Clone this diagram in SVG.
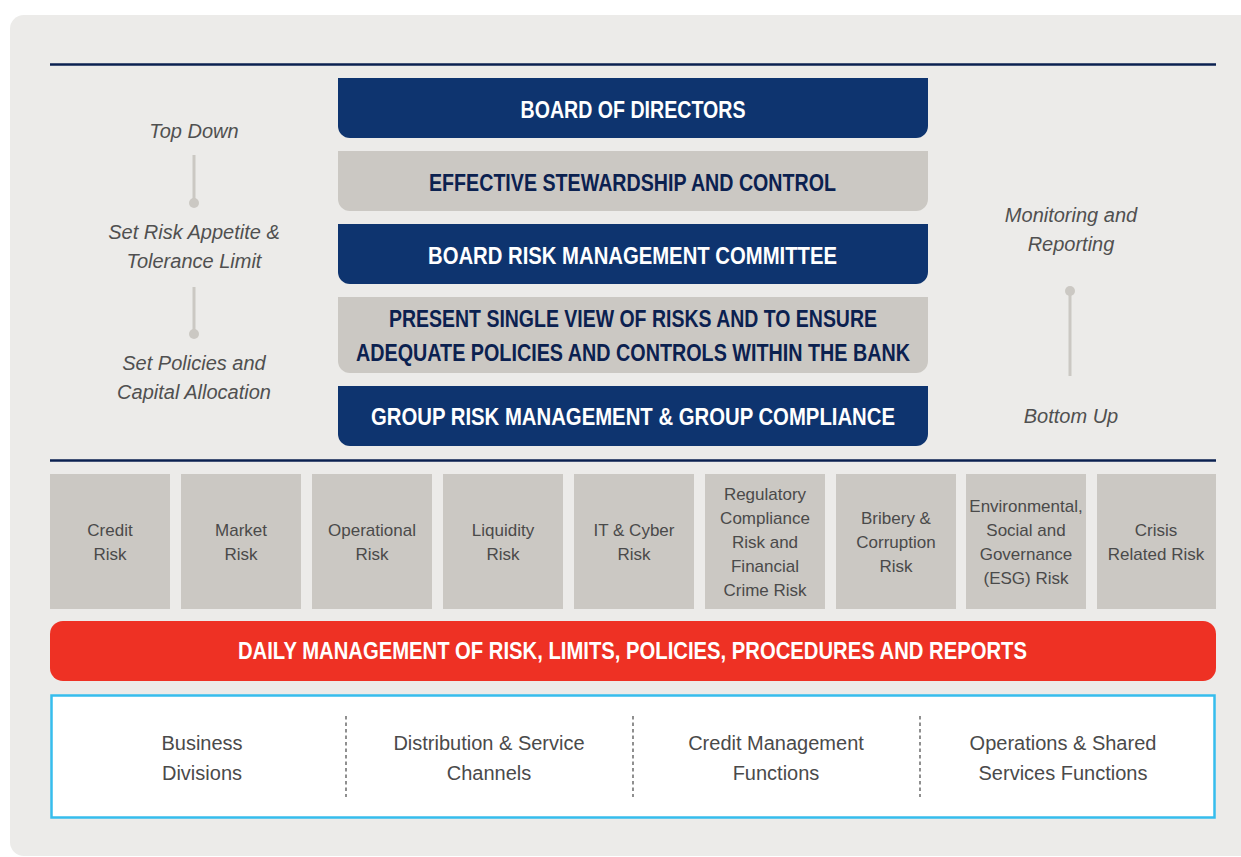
<svg xmlns="http://www.w3.org/2000/svg" width="1241" height="857" viewBox="0 0 1241 857">
<defs>
<style>
.ttl{font-family:"Liberation Sans",Arial,sans-serif;font-weight:bold;font-size:23px;text-anchor:middle}
.w{fill:#ffffff}
.n{fill:#0B2150}
.it{font-family:"Liberation Sans",Arial,sans-serif;font-style:italic;font-size:20px;fill:#505050;text-anchor:middle}
.rk{font-family:"Liberation Sans",Arial,sans-serif;font-size:17px;fill:#4a4a4a;text-anchor:middle}
.bt{font-family:"Liberation Sans",Arial,sans-serif;font-size:20px;fill:#4a4a4a;text-anchor:middle}
.blue{fill:#0E346F}
.grey{fill:#CBC8C3}
.rule{stroke:#0B2150;stroke-width:2.5}
.conn{stroke:#CBC8C3;stroke-width:3}
.dot{fill:#CBC8C3}
.div{stroke:#555;stroke-width:1.3;stroke-dasharray:3.5,3}
</style>
</defs>
<rect x="0" y="0" width="1241" height="857" fill="#ffffff"/>
<rect x="10" y="15" width="1260" height="841" rx="14" fill="#ECEBE9"/>
<line class="rule" x1="50" y1="64.5" x2="1216" y2="64.5"/>
<line class="rule" x1="50" y1="460.5" x2="1216" y2="460.5"/>

<g id="connectors">
<line class="conn" x1="194" y1="155" x2="194" y2="202"/>
<circle class="dot" cx="194" cy="203" r="5"/>
<line class="conn" x1="194" y1="287" x2="194" y2="333"/>
<circle class="dot" cx="194" cy="334" r="5"/>
<line class="conn" x1="1070" y1="291" x2="1070" y2="376"/>
<circle class="dot" cx="1070" cy="291" r="5"/>
</g>

<g id="label-top-down"><text class="it" x="194" y="138">Top Down</text></g>
<g id="label-risk-appetite"><text class="it" x="194" y="239">Set Risk Appetite &amp;</text><text class="it" x="194" y="268">Tolerance Limit</text></g>
<g id="label-policies"><text class="it" x="194" y="370">Set Policies and</text><text class="it" x="194" y="399">Capital Allocation</text></g>
<g id="label-monitoring"><text class="it" x="1071" y="222">Monitoring and</text><text class="it" x="1071" y="251">Reporting</text></g>
<g id="label-bottom-up"><text class="it" x="1071" y="423">Bottom Up</text></g>

<g id="board">
<path class="blue" d="M338 78H928V126A12 12 0 0 1 916 138H350A12 12 0 0 1 338 126Z"/>
<text class="ttl w" x="633" y="118" textLength="225" lengthAdjust="spacingAndGlyphs">BOARD OF DIRECTORS</text>
</g>
<g id="stewardship">
<path class="grey" d="M338 151H928V199A12 12 0 0 1 916 211H350A12 12 0 0 1 338 199Z"/>
<text class="ttl n" x="632.5" y="191" textLength="407" lengthAdjust="spacingAndGlyphs">EFFECTIVE STEWARDSHIP AND CONTROL</text>
</g>
<g id="brmc">
<path class="blue" d="M338 224H928V272A12 12 0 0 1 916 284H350A12 12 0 0 1 338 272Z"/>
<text class="ttl w" x="632.5" y="264" textLength="409" lengthAdjust="spacingAndGlyphs">BOARD RISK MANAGEMENT COMMITTEE</text>
</g>
<g id="single-view">
<path class="grey" d="M338 297H928V361A12 12 0 0 1 916 373H350A12 12 0 0 1 338 361Z"/>
<text class="ttl n" x="633" y="327" textLength="488" lengthAdjust="spacingAndGlyphs">PRESENT SINGLE VIEW OF RISKS AND TO ENSURE</text>
<text class="ttl n" x="633" y="361" textLength="554" lengthAdjust="spacingAndGlyphs">ADEQUATE POLICIES AND CONTROLS WITHIN THE BANK</text>
</g>
<g id="group-risk">
<path class="blue" d="M338 386H928V434A12 12 0 0 1 916 446H350A12 12 0 0 1 338 434Z"/>
<text class="ttl w" x="633" y="425" textLength="524" lengthAdjust="spacingAndGlyphs">GROUP RISK MANAGEMENT &amp; GROUP COMPLIANCE</text>
</g>

<g id="risk-credit"><rect class="grey" x="50" y="474" width="120" height="135"/><text class="rk" x="110" y="536">Credit</text><text class="rk" x="110" y="560">Risk</text></g>
<g id="risk-market"><rect class="grey" x="181" y="474" width="120" height="135"/><text class="rk" x="241" y="536">Market</text><text class="rk" x="241" y="560">Risk</text></g>
<g id="risk-operational"><rect class="grey" x="312" y="474" width="120" height="135"/><text class="rk" x="372" y="536">Operational</text><text class="rk" x="372" y="560">Risk</text></g>
<g id="risk-liquidity"><rect class="grey" x="443" y="474" width="120" height="135"/><text class="rk" x="503" y="536">Liquidity</text><text class="rk" x="503" y="560">Risk</text></g>
<g id="risk-it"><rect class="grey" x="574" y="474" width="120" height="135"/><text class="rk" x="634" y="536">IT &amp; Cyber</text><text class="rk" x="634" y="560">Risk</text></g>
<g id="risk-regulatory"><rect class="grey" x="705" y="474" width="120" height="135"/><text class="rk" x="765" y="500">Regulatory</text><text class="rk" x="765" y="524">Compliance</text><text class="rk" x="765" y="548">Risk and</text><text class="rk" x="765" y="572">Financial</text><text class="rk" x="765" y="596">Crime Risk</text></g>
<g id="risk-bribery"><rect class="grey" x="836" y="474" width="120" height="135"/><text class="rk" x="896" y="524">Bribery &amp;</text><text class="rk" x="896" y="548">Corruption</text><text class="rk" x="896" y="572">Risk</text></g>
<g id="risk-esg"><rect class="grey" x="966" y="474" width="120" height="135"/><text class="rk" x="1026" y="512">Environmental,</text><text class="rk" x="1026" y="536">Social and</text><text class="rk" x="1026" y="560">Governance</text><text class="rk" x="1026" y="584">(ESG) Risk</text></g>
<g id="risk-crisis"><rect class="grey" x="1097" y="474" width="119" height="135"/><text class="rk" x="1156" y="536">Crisis</text><text class="rk" x="1156" y="560">Related Risk</text></g>

<g id="daily">
<rect x="50" y="621" width="1166" height="60" rx="13" fill="#EE3124"/>
<text class="ttl w" x="632.5" y="659" textLength="789" lengthAdjust="spacingAndGlyphs">DAILY MANAGEMENT OF RISK, LIMITS, POLICIES, PROCEDURES AND REPORTS</text>
</g>

<g id="functions">
<rect x="51.5" y="695.5" width="1163" height="122" fill="#ffffff" stroke="#36BDED" stroke-width="2.5"/>
<line class="div" x1="346" y1="716" x2="346" y2="797"/>
<line class="div" x1="633" y1="716" x2="633" y2="797"/>
<line class="div" x1="920" y1="716" x2="920" y2="797"/>
<text class="bt" x="202" y="750">Business</text><text class="bt" x="202" y="780">Divisions</text>
<text class="bt" x="489" y="750">Distribution &amp; Service</text><text class="bt" x="489" y="780">Channels</text>
<text class="bt" x="776" y="750">Credit Management</text><text class="bt" x="776" y="780">Functions</text>
<text class="bt" x="1063" y="750">Operations &amp; Shared</text><text class="bt" x="1063" y="780">Services Functions</text>
</g>
</svg>
